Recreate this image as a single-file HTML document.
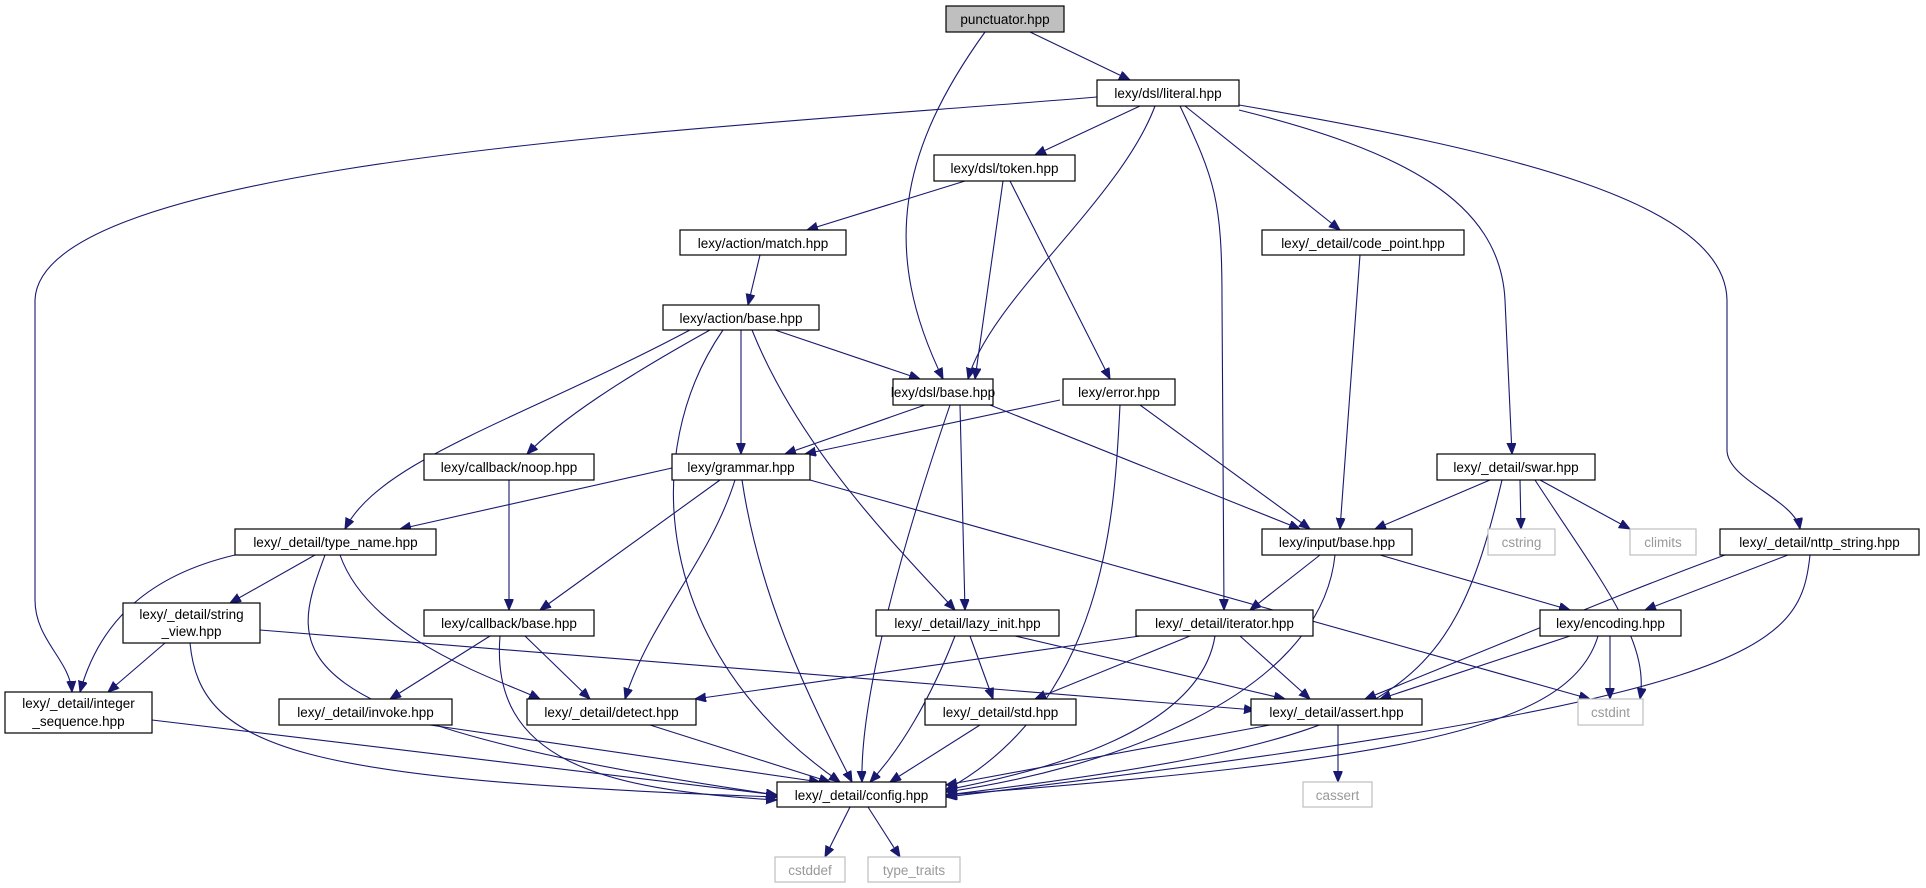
<!DOCTYPE html>
<html><head><meta charset="utf-8"><style>
html,body{margin:0;padding:0;background:#fff;}
svg{display:block;}
text{font-family:"Liberation Sans",sans-serif;font-size:13.5px;fill:#000;}
.e{fill:none;stroke:#191970;stroke-width:1.1;marker-end:url(#a);}
.n{fill:#fff;stroke:#000;stroke-width:1.2;}
.g{fill:#fff;stroke:#bfbfbf;stroke-width:1.2;}
.gt{fill:#bfbfbf;}
</style></head><body>
<svg width="1926" height="888" viewBox="0 0 1926 888" xmlns="http://www.w3.org/2000/svg">
<defs><marker id="a" markerWidth="12" markerHeight="10" refX="11" refY="4.5" orient="auto" markerUnits="userSpaceOnUse"><path d="M0,0 L11,4.5 L0,9 z" fill="#191970" stroke="#191970"/></marker></defs>
<g>
<path class="e" d="M1030,32 L1130,80"/>
<path class="e" d="M985,32 C900,150 880,250 943,379"/>
<path class="e" d="M1097,97 C700,130 40,160 35,300 L35,600 C35,640 70,660 72,692"/>
<path class="e" d="M1140,106 L1035,155"/>
<path class="e" d="M1155,106 C1120,200 990,300 968,379"/>
<path class="e" d="M1180,106 C1215,180 1222,200 1222,300 L1224,610"/>
<path class="e" d="M1185,106 L1340,230"/>
<path class="e" d="M1239,110 C1400,150 1500,200 1505,300 L1512,454"/>
<path class="e" d="M1239,105 C1500,150 1725,200 1727,300 L1727,450 C1727,480 1795,500 1800,529"/>
<path class="e" d="M965,181 L807,230"/>
<path class="e" d="M1003,181 L975,379"/>
<path class="e" d="M1010,181 L1110,379"/>
<path class="e" d="M760,255 L748,305"/>
<path class="e" d="M1360,255 L1340,529"/>
<path class="e" d="M775,330 L920,379"/>
<path class="e" d="M690,330 C520,420 380,460 345,529"/>
<path class="e" d="M710,330 C620,380 560,420 527,454"/>
<path class="e" d="M741,330 L741,454"/>
<path class="e" d="M723,330 C640,450 650,650 840,782"/>
<path class="e" d="M752,330 C800,450 900,550 955,610"/>
<path class="e" d="M925,405 L785,454"/>
<path class="e" d="M990,405 L1300,529"/>
<path class="e" d="M960,405 L965,610"/>
<path class="e" d="M950,405 C900,550 860,700 862,782"/>
<path class="e" d="M1060,400 L805,454"/>
<path class="e" d="M1140,405 L1310,529"/>
<path class="e" d="M1120,405 C1115,500 1110,700 946,790"/>
<path class="e" d="M509,480 L509,610"/>
<path class="e" d="M672,468 L400,529"/>
<path class="e" d="M720,480 L540,610"/>
<path class="e" d="M735,480 C710,560 650,620 625,699"/>
<path class="e" d="M742,480 C760,600 810,700 852,782"/>
<path class="e" d="M810,480 L1590,699"/>
<path class="e" d="M1490,480 L1375,529"/>
<path class="e" d="M1520,480 L1521,529"/>
<path class="e" d="M1540,480 L1630,529"/>
<path class="e" d="M1535,480 C1600,580 1650,640 1640,699"/>
<path class="e" d="M1502,480 C1450,700 1400,740 946,795"/>
<path class="e" d="M235,555 C150,575 100,620 80,692"/>
<path class="e" d="M315,555 L230,603"/>
<path class="e" d="M340,555 C370,640 500,680 540,699"/>
<path class="e" d="M325,555 C290,650 260,720 777,795"/>
<path class="e" d="M1320,555 L1250,610"/>
<path class="e" d="M1380,555 L1570,610"/>
<path class="e" d="M1335,555 C1320,700 1100,770 946,792"/>
<path class="e" d="M1725,555 C1630,590 1560,620 1365,699"/>
<path class="e" d="M1788,555 L1645,610"/>
<path class="e" d="M1810,555 C1800,650 1760,700 946,797"/>
<path class="e" d="M165,643 L108,692"/>
<path class="e" d="M260,630 L1255,710"/>
<path class="e" d="M190,643 C200,750 300,780 777,797"/>
<path class="e" d="M490,636 L390,699"/>
<path class="e" d="M525,636 L590,699"/>
<path class="e" d="M500,636 C490,760 600,790 777,800"/>
<path class="e" d="M970,636 L993,699"/>
<path class="e" d="M1015,636 L1285,699"/>
<path class="e" d="M955,636 C930,700 900,750 870,782"/>
<path class="e" d="M1140,636 L695,699"/>
<path class="e" d="M1190,636 L1035,699"/>
<path class="e" d="M1240,636 L1310,699"/>
<path class="e" d="M1215,636 C1200,730 1050,770 946,790"/>
<path class="e" d="M1570,636 L1380,699"/>
<path class="e" d="M1610,636 L1610,699"/>
<path class="e" d="M1598,636 C1570,730 1400,760 946,795"/>
<path class="e" d="M152,720 L777,795"/>
<path class="e" d="M430,725 L820,782"/>
<path class="e" d="M650,725 L830,782"/>
<path class="e" d="M980,725 L890,782"/>
<path class="e" d="M1270,725 L946,785"/>
<path class="e" d="M1338,725 L1338,782"/>
<path class="e" d="M850,807 L825,857"/>
<path class="e" d="M868,807 L900,857"/>
</g>
<g text-anchor="middle">
<rect x="946" y="6" width="118" height="26" class="n gt"/><text x="1005" y="24">punctuator.hpp</text>
<rect x="1097" y="80" width="142" height="26" class="n"/><text x="1168" y="98">lexy/dsl/literal.hpp</text>
<rect x="934" y="155" width="141" height="26" class="n"/><text x="1004.5" y="173">lexy/dsl/token.hpp</text>
<rect x="680" y="230" width="166" height="25" class="n"/><text x="763" y="248">lexy/action/match.hpp</text>
<rect x="1262" y="230" width="202" height="25" class="n"/><text x="1363" y="248">lexy/_detail/code_point.hpp</text>
<rect x="663" y="305" width="156" height="25" class="n"/><text x="741" y="323">lexy/action/base.hpp</text>
<rect x="893" y="379" width="100" height="26" class="n"/><text x="943" y="397">lexy/dsl/base.hpp</text>
<rect x="1063" y="379" width="112" height="26" class="n"/><text x="1119" y="397">lexy/error.hpp</text>
<rect x="424" y="454" width="170" height="26" class="n"/><text x="509" y="472">lexy/callback/noop.hpp</text>
<rect x="672" y="454" width="138" height="26" class="n"/><text x="741" y="472">lexy/grammar.hpp</text>
<rect x="1437" y="454" width="158" height="26" class="n"/><text x="1516" y="472">lexy/_detail/swar.hpp</text>
<rect x="235" y="529" width="201" height="26" class="n"/><text x="335.5" y="547">lexy/_detail/type_name.hpp</text>
<rect x="1262" y="529" width="150" height="26" class="n"/><text x="1337" y="547">lexy/input/base.hpp</text>
<rect x="1488" y="529" width="67" height="26" class="g"/><text x="1521.5" y="547" style="fill:#999">cstring</text>
<rect x="1630" y="529" width="66" height="26" class="g"/><text x="1663" y="547" style="fill:#999">climits</text>
<rect x="1720" y="529" width="199" height="26" class="n"/><text x="1819.5" y="547">lexy/_detail/nttp_string.hpp</text>
<rect x="123" y="603" width="137" height="40" class="n"/><text x="191.5" y="619">lexy/_detail/string</text><text x="191.5" y="636">_view.hpp</text>
<rect x="424" y="610" width="170" height="26" class="n"/><text x="509" y="628">lexy/callback/base.hpp</text>
<rect x="876" y="610" width="183" height="26" class="n"/><text x="967.5" y="628">lexy/_detail/lazy_init.hpp</text>
<rect x="1136" y="610" width="177" height="26" class="n"/><text x="1224.5" y="628">lexy/_detail/iterator.hpp</text>
<rect x="1540" y="610" width="141" height="26" class="n"/><text x="1610.5" y="628">lexy/encoding.hpp</text>
<rect x="5" y="692" width="147" height="41" class="n"/><text x="78.5" y="708">lexy/_detail/integer</text><text x="78.5" y="726">_sequence.hpp</text>
<rect x="279" y="699" width="173" height="26" class="n"/><text x="365.5" y="717">lexy/_detail/invoke.hpp</text>
<rect x="527" y="699" width="169" height="26" class="n"/><text x="611.5" y="717">lexy/_detail/detect.hpp</text>
<rect x="925" y="699" width="151" height="26" class="n"/><text x="1000.5" y="717">lexy/_detail/std.hpp</text>
<rect x="1251" y="699" width="171" height="26" class="n"/><text x="1336.5" y="717">lexy/_detail/assert.hpp</text>
<rect x="1578" y="699" width="65" height="26" class="g"/><text x="1610.5" y="717" style="fill:#999">cstdint</text>
<rect x="777" y="782" width="169" height="25" class="n"/><text x="861.5" y="800">lexy/_detail/config.hpp</text>
<rect x="1303" y="782" width="69" height="25" class="g"/><text x="1337.5" y="800" style="fill:#999">cassert</text>
<rect x="775" y="857" width="70" height="25" class="g"/><text x="810" y="875" style="fill:#999">cstddef</text>
<rect x="868" y="857" width="92" height="25" class="g"/><text x="914" y="875" style="fill:#999">type_traits</text>
</g>
</svg>
</body></html>
